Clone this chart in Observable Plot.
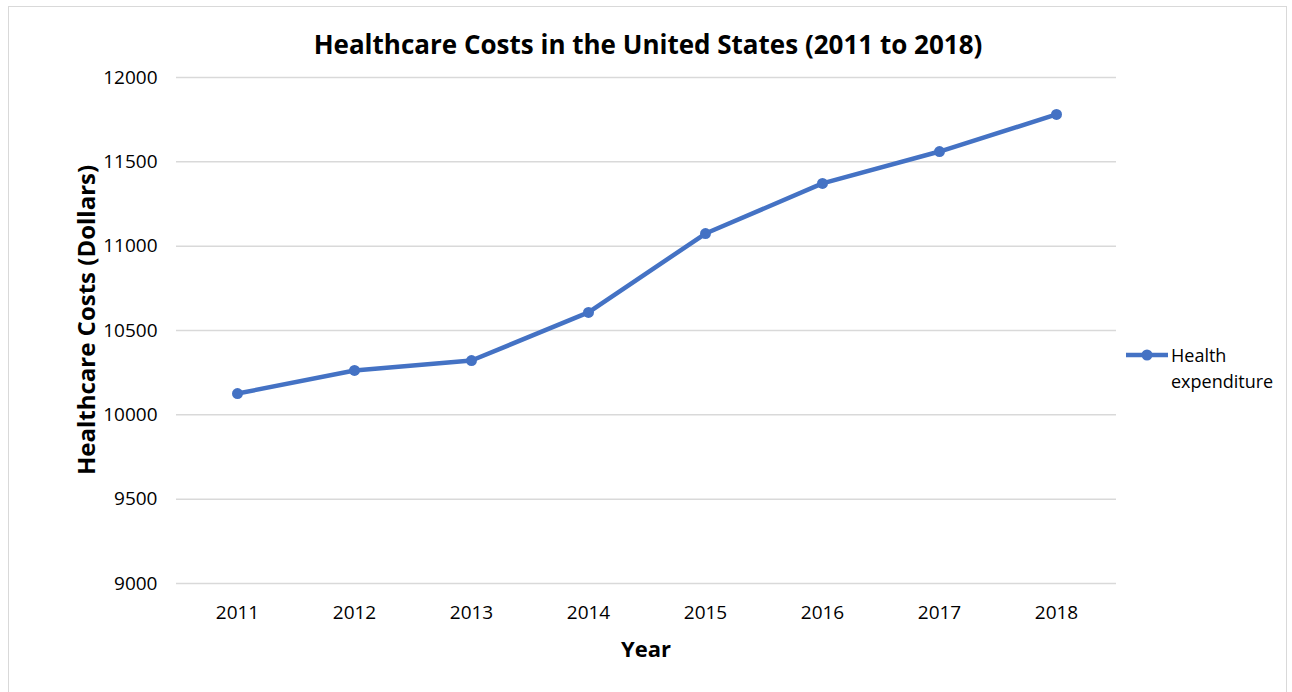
<!DOCTYPE html>
<html>
<head>
<meta charset="utf-8">
<script src="https://cdn.jsdelivr.net/npm/d3@7"></script>
<script src="https://cdn.jsdelivr.net/npm/@observablehq/plot@0.6"></script>
<style>
  body { margin: 0; background: #fff; font-family: "Open Sans", sans-serif; }
  #wrap { position: relative; width: 1292px; height: 692px; overflow: hidden; }
  #frame { position: absolute; left: 8px; top: 6px; width: 1279px; height: 700px; border: 1px solid #d9d9d9; box-sizing: border-box; }
  #title { position: absolute; left: 0; width: 1296px; top: 26px; text-align: center; font-weight: bold; font-size: 26px; line-height: 36px; color: #000; }
  #ytitle { position: absolute; left: 85px; top: 320px; transform: translate(-50%, -50%) rotate(-90deg); white-space: nowrap; font-weight: bold; font-size: 24px; color: #000; }
  #xtitle { position: absolute; left: 646px; top: 648px; transform: translate(-50%, -50%); font-weight: bold; font-size: 22px; color: #000; }
  #legend { position: absolute; left: 1125px; top: 342px; display: flex; align-items: flex-start; font-size: 18px; color: #000; line-height: 26px; }
  #chart { position: absolute; left: 0; top: 0; }
</style>
</head>
<body>
<div id="wrap">
  <div id="frame"></div>
  <div id="chart"></div>
  <div id="title">Healthcare Costs in the United States (2011 to 2018)</div>
  <div id="ytitle">Healthcare Costs (Dollars)</div>
  <div id="xtitle">Year</div>
  <div id="legend"><svg id="legsym" width="46" height="26"></svg><div>Health<br>expenditure</div></div>
</div>
<script>
const years = ["2011", "2012", "2013", "2014", "2015", "2016", "2017", "2018"];
const costs = [10126, 10263, 10322, 10607, 11075, 11372, 11561, 11781];
const yTicks = [9000, 9500, 10000, 10500, 11000, 11500, 12000];
const seriesName = "Health expenditure";
const color = "#4472C4";

const data = years.map((y, i) => ({year: y, cost: costs[i], series: seriesName}));

const chart = Plot.plot({
  width: 1292,
  height: 692,
  marginLeft: 176,
  marginRight: 176,
  marginTop: 77,
  marginBottom: 109,
  style: { fontFamily: "Open Sans, sans-serif", fontSize: "19px", color: "#000", background: "transparent" },
  x: { type: "point", domain: years, padding: 0.5, label: null },
  y: { domain: [9000, 12000], ticks: yTicks, label: null },
  marks: [
    Plot.gridY(yTicks, { stroke: "#d9d9d9", strokeOpacity: 1, strokeWidth: 1.5 }),
    Plot.axisY(yTicks, { tickSize: 0, tickPadding: 19, label: null, fontSize: 19, tickFormat: d3.format("d") }),
    Plot.axisX({ tickSize: 0, tickPadding: 22, label: null, fontSize: 19 }),
    Plot.line(data, { x: "year", y: "cost", stroke: color, strokeWidth: 4.5 }),
    Plot.dot(data, { x: "year", y: "cost", fill: color, r: 5.5 })
  ]
});
document.getElementById("chart").appendChild(chart);

// legend symbol
const leg = d3.select("#legsym");
leg.append("line").attr("x1", 1).attr("x2", 43).attr("y1", 13).attr("y2", 13)
  .attr("stroke", color).attr("stroke-width", 4.5);
leg.append("circle").attr("cx", 22).attr("cy", 13).attr("r", 5.5).attr("fill", color);
</script>
</body>
</html>
